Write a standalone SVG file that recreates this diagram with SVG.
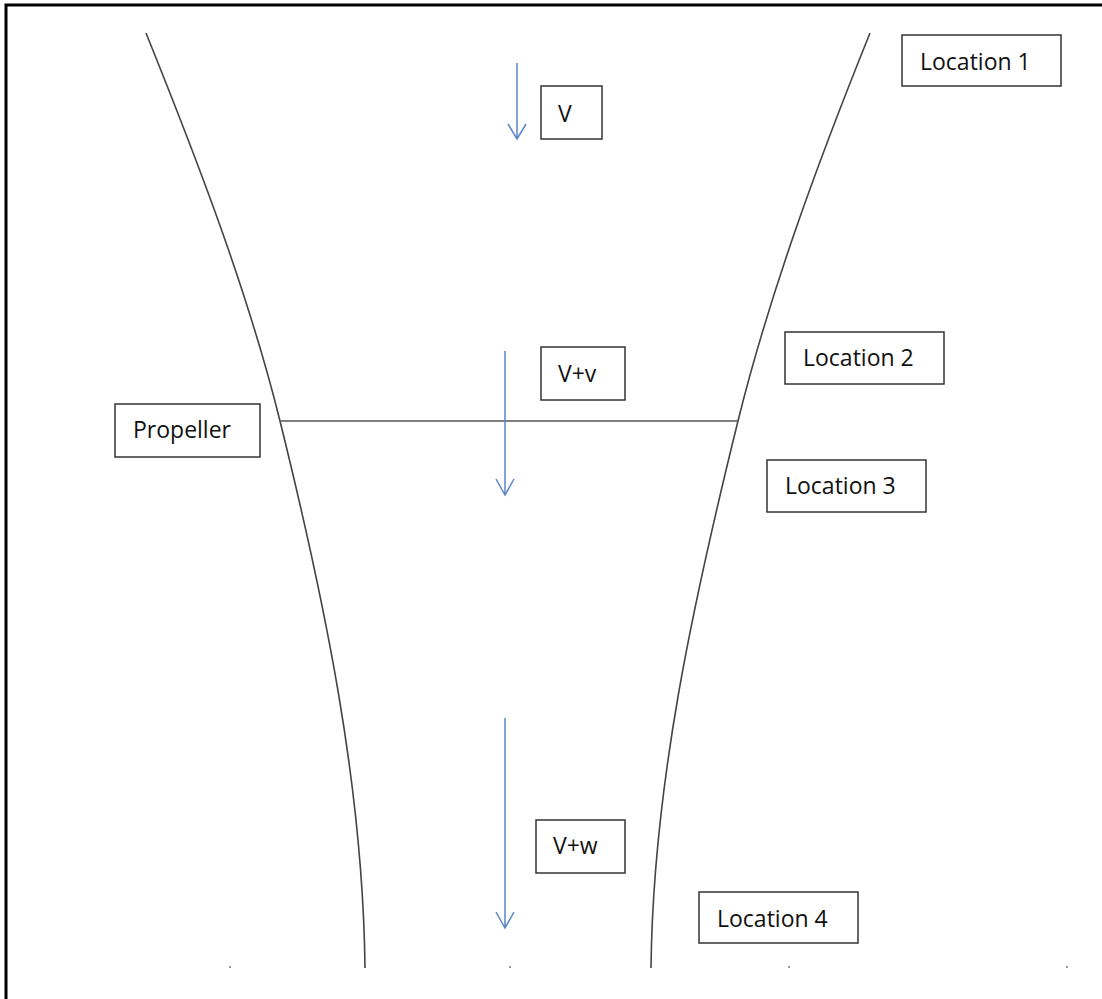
<svg xmlns="http://www.w3.org/2000/svg" width="1102" height="999" viewBox="0 0 1102 999">
<style>
.box{fill:#fff;stroke:#333;stroke-width:1.5}
.lbl{font-family:"Open Sans","Liberation Sans",sans-serif;font-size:23px;fill:#111}
.curve{fill:none;stroke:#444;stroke-width:1.6}
.arrow{fill:none;stroke:#5a86c8;stroke-width:1.5}
.dot{fill:#999}
</style>
<rect width="1102" height="999" fill="#fff"/>
<g id="frame">
<path d="M6,999 V5 H1102" fill="none" stroke="#000" stroke-width="3"/>
</g>
<g id="slipstream">
<path class="curve" d="M146,33 C198,162 248,292 280,421 C325,603 363,786 365,968"/>
<path class="curve" d="M870,33 C818,162 770,292 738,421 C693,603 653,786 651,968"/>
<line x1="280" y1="421" x2="738" y2="421" stroke="#555" stroke-width="1.5"/>
<rect class="dot" x="229" y="966" width="2" height="2"/>
<rect class="dot" x="509" y="966" width="2" height="2"/>
<rect class="dot" x="788" y="966" width="2" height="2"/>
<rect class="dot" x="1066" y="966" width="2" height="2"/>
</g>
<g id="connectors">
<path class="arrow" d="M517,63 V139 M508,124 L517,139 L526,124"/>
<path class="arrow" d="M505,351 V495 M496,479 L505,495 L514,479"/>
<path class="arrow" d="M505,718 V928 M496,912 L505,928 L514,912"/>
</g>
<g id="node-location1"><rect class="box" x="902" y="35" width="159" height="51"/><text class="lbl" x="920" y="70">Location 1</text></g>
<g id="node-v"><rect class="box" x="541" y="86" width="61" height="53"/><text class="lbl" x="558" y="122">V</text></g>
<g id="node-vplusv"><rect class="box" x="541" y="347" width="84" height="53"/><text class="lbl" x="558" y="382">V+v</text></g>
<g id="node-location2"><rect class="box" x="785" y="332" width="159" height="52"/><text class="lbl" x="803" y="366">Location 2</text></g>
<g id="node-propeller"><rect class="box" x="115" y="404" width="145" height="53"/><text class="lbl" x="133" y="438">Propeller</text></g>
<g id="node-location3"><rect class="box" x="767" y="460" width="159" height="52"/><text class="lbl" x="785" y="494">Location 3</text></g>
<g id="node-vplusw"><rect class="box" x="536" y="820" width="89" height="53"/><text class="lbl" x="553" y="854">V+w</text></g>
<g id="node-location4"><rect class="box" x="699" y="892" width="159" height="51"/><text class="lbl" x="717" y="927">Location 4</text></g>
</svg>
